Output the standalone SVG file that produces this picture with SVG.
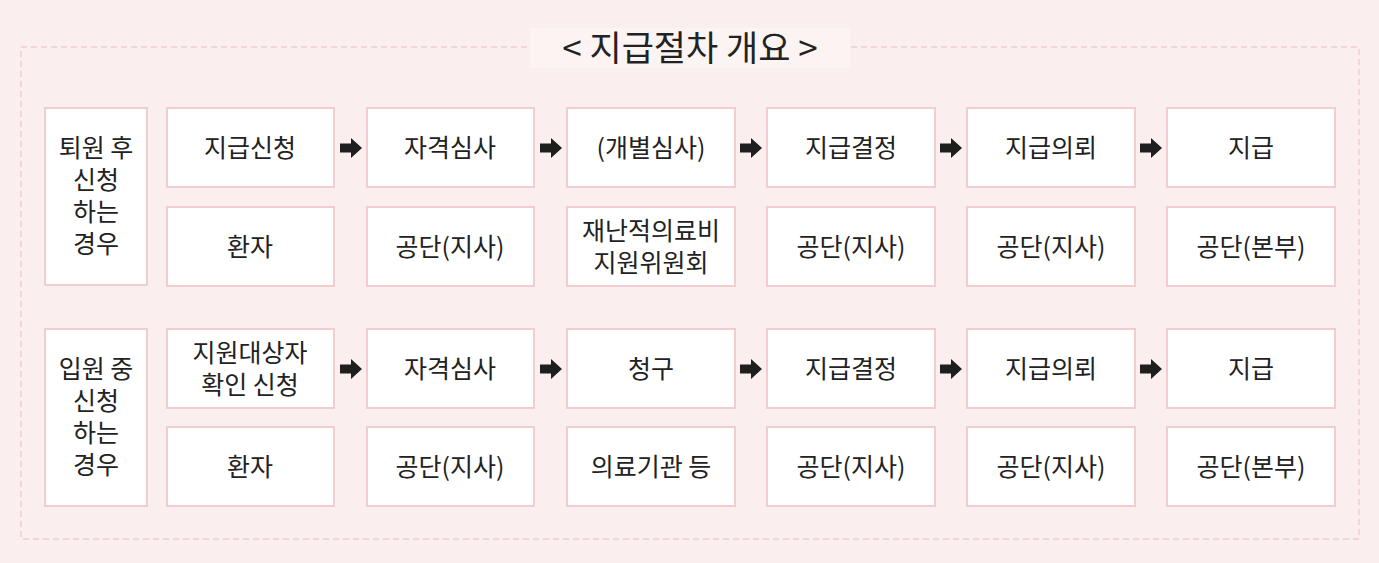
<svg xmlns="http://www.w3.org/2000/svg" width="1379" height="563" viewBox="0 0 1379 563">
<style>
.b{fill:#fff;stroke:#f2cdd0;stroke-width:2}
.t{font-family:"Noto Sans CJK KR","Noto Sans",sans-serif;font-size:25px;fill:#222;text-anchor:middle}
.a{fill:#1e1e1e}
</style>
<defs>
<path id="arr" d="M0,-4.5 H11 V-10 L22,0 L11,10 V4.5 H0 Z"/>
</defs>
<rect width="1379" height="563" fill="#fbeeee"/>
<rect x="21" y="47" width="1338" height="492" fill="none" stroke="#f2cdd0" stroke-width="1.5" stroke-dasharray="6,4"/>
<g id="title">
<rect x="530" y="28" width="320" height="40" fill="#fcf3f3"/>
<text x="690" y="61" class="t" style="font-size:35px">&lt; 지급절차 개요 &gt;</text>
</g>
<g id="case1"><rect class="b" x="45" y="108" width="102" height="177"/><text class="t" x="96"><tspan x="96" y="157">퇴원 후</tspan><tspan x="96" y="189">신청</tspan><tspan x="96" y="221">하는</tspan><tspan x="96" y="253">경우</tspan></text></g>
<g id="case2"><rect class="b" x="45" y="329" width="102" height="177"/><text class="t" x="96"><tspan x="96" y="378">입원 중</tspan><tspan x="96" y="410">신청</tspan><tspan x="96" y="442">하는</tspan><tspan x="96" y="474">경우</tspan></text></g>

<g id="r1c1"><rect class="b" x="167" y="108" width="167" height="79"/><text class="t" x="250" y="157">지급신청</text></g>
<g id="r1c2"><rect class="b" x="367" y="108" width="167" height="79"/><text class="t" x="450" y="157">자격심사</text></g>
<g id="r1c3"><rect class="b" x="567" y="108" width="168" height="79"/><text class="t" x="651" y="157">(개별심사)</text></g>
<g id="r1c4"><rect class="b" x="767" y="108" width="168" height="79"/><text class="t" x="851" y="157">지급결정</text></g>
<g id="r1c5"><rect class="b" x="967" y="108" width="168" height="79"/><text class="t" x="1051" y="157">지급의뢰</text></g>
<g id="r1c6"><rect class="b" x="1167" y="108" width="168" height="79"/><text class="t" x="1251" y="157">지급</text></g>

<g id="r2c1"><rect class="b" x="167" y="207" width="167" height="79"/><text class="t" x="250" y="256">환자</text></g>
<g id="r2c2"><rect class="b" x="367" y="207" width="167" height="79"/><text class="t" x="450" y="256">공단(지사)</text></g>
<g id="r2c3"><rect class="b" x="567" y="207" width="168" height="79"/><text class="t" x="651"><tspan x="651" y="240">재난적의료비</tspan><tspan x="651" y="272">지원위원회</tspan></text></g>
<g id="r2c4"><rect class="b" x="767" y="207" width="168" height="79"/><text class="t" x="851" y="256">공단(지사)</text></g>
<g id="r2c5"><rect class="b" x="967" y="207" width="168" height="79"/><text class="t" x="1051" y="256">공단(지사)</text></g>
<g id="r2c6"><rect class="b" x="1167" y="207" width="168" height="79"/><text class="t" x="1251" y="256">공단(본부)</text></g>

<g id="r3c1"><rect class="b" x="167" y="329" width="167" height="79"/><text class="t" x="250"><tspan x="250" y="362">지원대상자</tspan><tspan x="250" y="394">확인 신청</tspan></text></g>
<g id="r3c2"><rect class="b" x="367" y="329" width="167" height="79"/><text class="t" x="450" y="378">자격심사</text></g>
<g id="r3c3"><rect class="b" x="567" y="329" width="168" height="79"/><text class="t" x="651" y="378">청구</text></g>
<g id="r3c4"><rect class="b" x="767" y="329" width="168" height="79"/><text class="t" x="851" y="378">지급결정</text></g>
<g id="r3c5"><rect class="b" x="967" y="329" width="168" height="79"/><text class="t" x="1051" y="378">지급의뢰</text></g>
<g id="r3c6"><rect class="b" x="1167" y="329" width="168" height="79"/><text class="t" x="1251" y="378">지급</text></g>

<g id="r4c1"><rect class="b" x="167" y="427" width="167" height="79"/><text class="t" x="250" y="476">환자</text></g>
<g id="r4c2"><rect class="b" x="367" y="427" width="167" height="79"/><text class="t" x="450" y="476">공단(지사)</text></g>
<g id="r4c3"><rect class="b" x="567" y="427" width="168" height="79"/><text class="t" x="651" y="476">의료기관 등</text></g>
<g id="r4c4"><rect class="b" x="767" y="427" width="168" height="79"/><text class="t" x="851" y="476">공단(지사)</text></g>
<g id="r4c5"><rect class="b" x="967" y="427" width="168" height="79"/><text class="t" x="1051" y="476">공단(지사)</text></g>
<g id="r4c6"><rect class="b" x="1167" y="427" width="168" height="79"/><text class="t" x="1251" y="476">공단(본부)</text></g>

<g id="connectors" class="a">
<use href="#arr" x="340" y="148"/><use href="#arr" x="540" y="148"/><use href="#arr" x="740" y="148"/><use href="#arr" x="940" y="148"/><use href="#arr" x="1140" y="148"/>
<use href="#arr" x="340" y="369"/><use href="#arr" x="540" y="369"/><use href="#arr" x="740" y="369"/><use href="#arr" x="940" y="369"/><use href="#arr" x="1140" y="369"/>
</g>
</svg>
